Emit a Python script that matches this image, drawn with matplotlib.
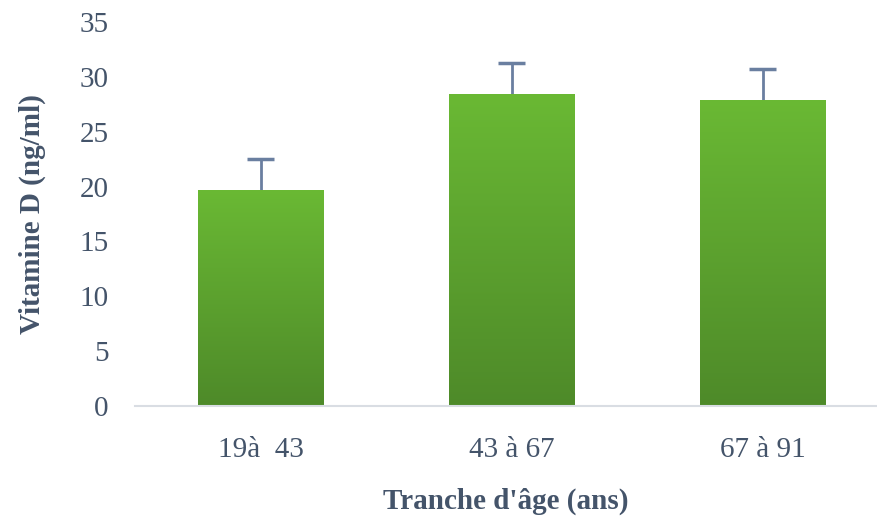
import numpy as np
import matplotlib.pyplot as plt
from matplotlib.colors import LinearSegmentedColormap

categories = ['19à  43', '43 à 67', '67 à 91']
values = [19.7, 28.45, 27.9]
errors = [2.85, 2.8, 2.8]

txt = '#44546a'
plt.rcParams['font.family'] = ['Liberation Serif', 'DejaVu Serif']

fig = plt.figure(figsize=(8.77, 5.2), dpi=100)
ax = fig.add_axes([135 / 877, 1 - 406 / 520, 742 / 877, (406 - 22) / 520])

x = np.arange(len(categories))
bars = ax.bar(x, values, width=0.5, color='none', zorder=2)

# upper-only error bars with caps
tops = np.array(values) + np.array(errors)
ax.vlines(x, values, tops, color='#6a7fa0', lw=2, zorder=1)
ax.hlines(tops, x - 0.055, x + 0.055, color='#6a7fa0', lw=2.5, zorder=1)

# vertical gradient fill inside each bar
cmap = LinearSegmentedColormap.from_list('g', ['#4e8a29', '#6ab934'])
grad = np.linspace(0, 1, 256).reshape(-1, 1)
for b in bars:
    x0, w, h = b.get_x(), b.get_width(), b.get_height()
    im = ax.imshow(grad, extent=[x0, x0 + w, 0, h], origin='lower', cmap=cmap,
                   aspect='auto', zorder=2)
    im.set_clip_path(b)

ax.set_xlim(-0.5, 2.456)
ax.set_ylim(0, 35)
ax.set_yticks(range(0, 36, 5))
ax.set_xticks(x)
ax.set_xticklabels(categories)
ax.tick_params(length=0, labelsize=21, labelcolor=txt)
ax.tick_params(axis='y', pad=19)
ax.tick_params(axis='x', pad=22)
for s in ['top', 'right', 'left']:
    ax.spines[s].set_visible(False)
ax.spines['bottom'].set_color('#d9dde3')
ax.spines['bottom'].set_linewidth(1.5)

ax.set_ylabel('Vitamine D (ng/ml)', fontsize=21, fontweight='bold', color=txt, labelpad=24)
ax.set_xlabel("Tranche d'âge (ans)", fontsize=21, fontweight='bold', color=txt, labelpad=18)

plt.savefig('out.png', dpi=100)
